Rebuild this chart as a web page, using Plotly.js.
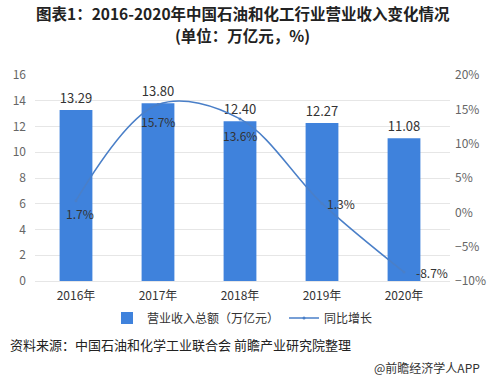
<!DOCTYPE html>
<html><head><meta charset="utf-8">
<script src="https://cdn.plot.ly/plotly-3.0.1.min.js"></script>
<style>body{margin:0;background:#fff}#c{width:487px;height:380px}</style>
</head><body><div id="c"></div>
<script>
const years = ['2016年','2017年','2018年','2019年','2020年'];
const revenue = [13.29, 13.80, 12.40, 12.27, 11.08];
const growth = [1.7, 15.7, 13.6, 1.3, -8.7];
const barName = '营业收入总额（万亿元）';
const lineName = '同比增长';
const titleLine1 = '图表1：2016-2020年中国石油和化工行业营业收入变化情况';
const titleLine2 = '(单位：万亿元，%)';
const sourceText = '资料来源：中国石油和化学工业联合会 前瞻产业研究院整理';
const creditText = '@前瞻经济学人APP';

const F = '"Noto Sans CJK SC", "Noto Sans", sans-serif';
const blue = '#3f82dc';
const lineBlue = '#4a7fc8';

const traces = [
  {type:'bar', x:years, y:revenue, name:barName, marker:{color:blue}, width:0.4,
   text:revenue.map(v=>v.toFixed(2)), textposition:'outside', cliponaxis:false,
   textfont:{family:F, size:13, color:'#333'}},
  {type:'scatter', mode:'lines+markers', x:years, y:growth, yaxis:'y2', name:lineName,
   line:{color:lineBlue, width:1.5, shape:'spline', smoothing:1}, marker:{size:3, color:lineBlue},
   cliponaxis:false}
];

const labelShift = [[4,-13],[0,-17],[0,-17],[19,0],[28,0]];
const growthLabels = growth.map((v,i)=>({
  text:v.toFixed(1)+'%', x:years[i], y:v, xref:'x', yref:'y2', showarrow:false,
  xshift:labelShift[i][0], yshift:labelShift[i][1],
  font:{family:F, size:12, color:'#333'}
}));

const layout = {
  width:487, height:380, margin:{l:35, r:37, t:75, b:99},
  paper_bgcolor:'#fff', plot_bgcolor:'#fff',
  font:{family:F, color:'#333'},
  showlegend:true,
  xaxis:{type:'category', tickfont:{family:F, size:12, color:'#333'}, showgrid:false, zeroline:false,
    showline:true, linecolor:'#e6e6e6', ticks:'', ticklabelstandoff:4},
  yaxis:{range:[0,16], dtick:2, tickfont:{family:F, size:12, color:'#666'}, gridcolor:'#e6e6e6',
    zeroline:false, ticks:'', ticklabelstandoff:8},
  yaxis2:{range:[-10,20], dtick:5, overlaying:'y', side:'right', ticksuffix:'%', showgrid:false,
    zeroline:false, tickfont:{family:F, size:12, color:'#666'}, ticklabelstandoff:4},
  legend:{orientation:'h', x:0.5, xanchor:'center', y:-0.18, yanchor:'middle',
    font:{family:F, size:12, color:'#333'}},
  annotations:[
    {text:titleLine1, xref:'paper', yref:'paper', x:0.5, xanchor:'center', y:1.3010, yanchor:'middle',
     showarrow:false, borderpad:0, font:{family:F, size:15.5, color:'#222', weight:'bold'}},
    {text:titleLine2, xref:'paper', yref:'paper', x:0.5, xanchor:'center', y:1.1942, yanchor:'middle',
     showarrow:false, borderpad:0, font:{family:F, size:15.5, color:'#222', weight:'bold'}},
    {text:sourceText, xref:'paper', yref:'paper', x:-0.065, xanchor:'left', y:-0.31, yanchor:'middle',
     showarrow:false, font:{family:F, size:13, color:'#222'}},
    {text:creditText, xref:'paper', yref:'paper', x:1.078, xanchor:'right', y:-0.42, yanchor:'middle',
     showarrow:false, font:{family:F, size:12, color:'#333'}}
  ].concat(growthLabels)
};
Plotly.newPlot('c', traces, layout, {displayModeBar:false, staticPlot:true});
</script></body></html>
